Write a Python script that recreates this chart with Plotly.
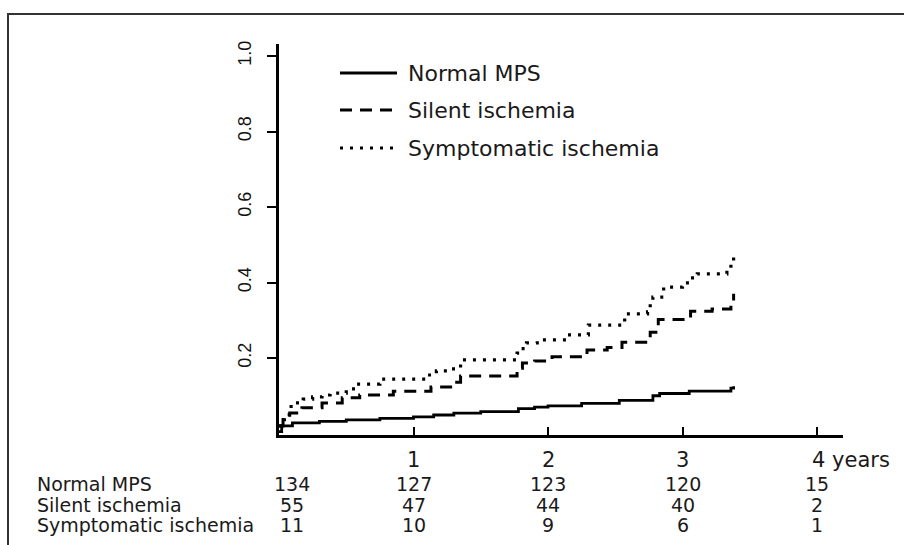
import plotly.graph_objects as go

# ---------------- data ----------------
series_names = ["Normal MPS", "Silent ischemia", "Symptomatic ischemia"]

normal_t = [0, 0.02, 0.1, 0.3, 0.5, 0.75, 1.0, 1.15, 1.3, 1.5, 1.78, 1.9, 2.0, 2.25, 2.53, 2.78, 2.83, 3.05, 3.36, 3.38]
normal_y = [0.005, 0.02, 0.028, 0.032, 0.036, 0.040, 0.044, 0.049, 0.054, 0.058, 0.066, 0.070, 0.073, 0.080, 0.088, 0.100, 0.106, 0.112, 0.120, 0.125]

silent_t = [0, 0.03, 0.08, 0.17, 0.32, 0.47, 0.6, 0.85, 1.13, 1.29, 1.35, 1.77, 1.81, 1.9, 2.03, 2.29, 2.44, 2.55, 2.76, 2.82, 3.06, 3.22, 3.36, 3.38]
silent_y = [0.02, 0.044, 0.054, 0.068, 0.081, 0.095, 0.102, 0.112, 0.123, 0.136, 0.152, 0.173, 0.187, 0.192, 0.203, 0.221, 0.228, 0.242, 0.268, 0.302, 0.324, 0.330, 0.345, 0.37]

sympt_t = [0, 0.04, 0.09, 0.18, 0.25, 0.32, 0.38, 0.5, 0.57, 0.75, 1.1, 1.17, 1.27, 1.35, 1.77, 1.8, 1.84, 1.92, 2.14, 2.30, 2.57, 2.74, 2.76, 2.78, 2.86, 3.0, 3.06, 3.11, 3.33, 3.36, 3.38]
sympt_y = [0.02, 0.05, 0.081, 0.091, 0.097, 0.102, 0.107, 0.118, 0.131, 0.144, 0.155, 0.166, 0.171, 0.195, 0.213, 0.225, 0.240, 0.248, 0.261, 0.287, 0.317, 0.322, 0.346, 0.361, 0.388, 0.399, 0.412, 0.423, 0.436, 0.454, 0.475]

y_tick_vals = [0.2, 0.4, 0.6, 0.8, 1.0]
y_tick_text = ["0.2", "0.4", "0.6", "0.8", "1.0"]
x_tick_vals = [1, 2, 3, 4]
x_tick_text = ["1", "2", "3", "4 years"]

risk_times = [0.1, 1, 2, 3, 4]
risk_normal = [134, 127, 123, 120, 15]
risk_silent = [55, 47, 44, 40, 2]
risk_sympt = [11, 10, 9, 6, 1]

# ---------------- layout helpers ----------------
W, H = 904, 545
L, R, T, B = 279, 843, 44, 435  # plot area in pixels


def px_x(px):
    return (px - L) / (R - L)


def px_y(py):
    return (B - py) / (B - T)


TXT = "#1a1a1a"
FONT = "DejaVu Sans"

fig = go.Figure()
styles = [
    dict(color="black", width=2.8, dash="solid"),
    dict(color="black", width=3, dash="12px,8px"),
    dict(color="black", width=3.2, dash="3px,7px"),
]
data = [(normal_t, normal_y), (silent_t, silent_y), (sympt_t, sympt_y)]
for name, (t, y), st in zip(series_names, data, styles):
    fig.add_trace(go.Scatter(x=t, y=y, mode="lines", name=name, line_shape="hv",
                             line=st, showlegend=False, hoverinfo="skip"))

xmax = 4 * (R - L) / (817 - L)
y0px = 433.5
ppu = (433.5 - 56) / 1.0
ymin = (y0px - B) / ppu
ymax = (y0px - T) / ppu

fig.update_layout(
    width=W, height=H,
    margin=dict(l=L, r=W - R, t=T, b=H - B),
    paper_bgcolor="white", plot_bgcolor="white",
    showlegend=False,
    xaxis=dict(range=[0, xmax], tickvals=x_tick_vals, showticklabels=False,
               ticks="inside", ticklen=8, tickwidth=2, tickcolor="black",
               showline=True, linewidth=3, linecolor="black",
               showgrid=False, zeroline=False, fixedrange=True),
    yaxis=dict(range=[ymin, ymax], tickvals=y_tick_vals, ticktext=y_tick_text,
               ticks="outside", ticklen=9, tickwidth=2, tickcolor="black",
               tickangle=-90, ticklabelstandoff=9,
               tickfont=dict(family="Liberation Sans", size=18, color="#111111"),
               showline=True, linewidth=3, linecolor="black",
               showgrid=False, zeroline=False, fixedrange=True),
)

shapes = []
annotations = []

# border frame
shapes.append(dict(type="rect", xref="paper", yref="paper",
                   x0=px_x(8), x1=px_x(930), y0=px_y(570), y1=px_y(14),
                   line=dict(color="#333333", width=2), fillcolor="rgba(0,0,0,0)", layer="above"))

# manual legend
leg_rows = [73, 110, 148]
for name, st, ry in zip(series_names, styles, leg_rows):
    shapes.append(dict(type="line", xref="paper", yref="paper",
                       x0=px_x(340), x1=px_x(397), y0=px_y(ry), y1=px_y(ry),
                       line=dict(color="black", width=st["width"], dash=st["dash"])))
    annotations.append(dict(xref="paper", yref="paper", x=px_x(406), y=px_y(ry),
                            xanchor="left", yanchor="middle", showarrow=False,
                            text=name, font=dict(family=FONT, size=22, color=TXT)))

# x tick labels
for v, t in zip(x_tick_vals, x_tick_text):
    if t.startswith("4"):
        annotations.append(dict(xref="x", yref="paper", x=v - 7 / 134.5, y=px_y(460),
                                xanchor="left", yanchor="middle", showarrow=False,
                                text=t, font=dict(family=FONT, size=21, color=TXT)))
    else:
        annotations.append(dict(xref="x", yref="paper", x=v, y=px_y(460),
                                xanchor="center", yanchor="middle", showarrow=False,
                                text=t, font=dict(family=FONT, size=21, color=TXT)))

# number-at-risk table
rows = [(series_names[0], risk_normal, 484), (series_names[1], risk_silent, 505),
        (series_names[2], risk_sympt, 525)]
for label, vals, ry in rows:
    annotations.append(dict(xref="paper", yref="paper", x=px_x(35), y=px_y(ry),
                            xanchor="left", yanchor="middle", showarrow=False,
                            text=label, font=dict(family=FONT, size=19, color=TXT)))
    for tx, v in zip(risk_times, vals):
        annotations.append(dict(xref="x", yref="paper", x=tx, y=px_y(ry),
                                xanchor="center", yanchor="middle", showarrow=False,
                                text=str(v), font=dict(family=FONT, size=19, color=TXT)))

fig.update_layout(shapes=shapes, annotations=annotations)
fig.write_html("out.html")
